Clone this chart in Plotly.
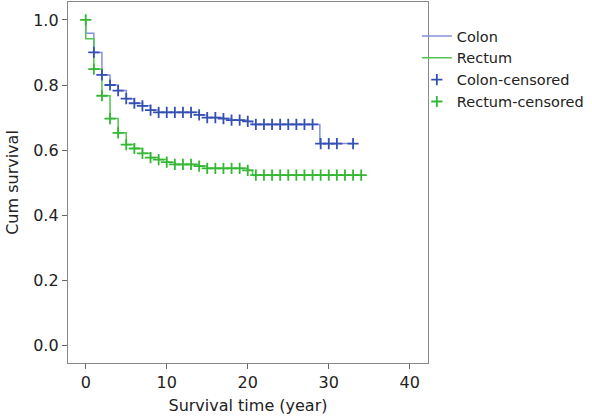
import plotly.graph_objects as go

# Step curves (Kaplan-Meier estimates)
colon_step_t = [0, 0, 1, 2, 3, 4, 5, 6, 7, 8, 9, 14, 15, 17, 18, 20, 20.6, 28.9, 33]
colon_step_s = [1.0, 0.959, 0.90, 0.831, 0.80, 0.783, 0.758, 0.744, 0.736, 0.723, 0.716,
                0.708, 0.70, 0.697, 0.692, 0.688, 0.679, 0.62, 0.62]
rectum_step_t = [0, 0, 1, 2, 3, 4, 5, 6, 7, 8, 9, 10, 11, 14, 15, 20, 20.6, 34]
rectum_step_s = [1.0, 0.942, 0.849, 0.767, 0.697, 0.653, 0.617, 0.605, 0.590, 0.577, 0.571,
                 0.563, 0.556, 0.551, 0.544, 0.538, 0.523, 0.523]

# Censored marks
colon_cens_t = list(range(1, 29)) + [29, 30, 31, 33]
colon_cens_s = [0.90, 0.831, 0.80, 0.783, 0.758, 0.744, 0.736, 0.723, 0.716, 0.716,
                0.716, 0.716, 0.716, 0.708, 0.70, 0.70, 0.697, 0.692, 0.692, 0.688,
                0.679, 0.679, 0.679, 0.679, 0.679, 0.679, 0.679, 0.679,
                0.62, 0.62, 0.62, 0.62]
rectum_cens_t = list(range(0, 35))
rectum_cens_s = [1.0, 0.849, 0.767, 0.697, 0.653, 0.617, 0.605, 0.590, 0.577, 0.571,
                 0.563, 0.556, 0.556, 0.556, 0.551, 0.544, 0.544, 0.544, 0.544, 0.544,
                 0.538] + [0.523] * 14

x_ticks = [0, 10, 20, 30, 40]
y_ticks = [0.0, 0.2, 0.4, 0.6, 0.8, 1.0]

BLUE_LINE = "#8492da"
BLUE_MARK = "#3550b5"
GREEN_LINE = "#52c452"
GREEN_MARK = "#33b833"
FONT = "DejaVu Sans"

fig = go.Figure()
fig.add_trace(go.Scatter(x=colon_step_t, y=colon_step_s, mode="lines", name="Colon",
                         line=dict(color=BLUE_LINE, width=1.5, shape="hv")))
fig.add_trace(go.Scatter(x=rectum_step_t, y=rectum_step_s, mode="lines", name="Rectum",
                         line=dict(color=GREEN_LINE, width=1.5, shape="hv")))
fig.add_trace(go.Scatter(x=colon_cens_t, y=colon_cens_s, mode="markers", name="Colon-censored",
                         marker=dict(symbol="cross-thin", size=8,
                                     line=dict(color=BLUE_MARK, width=1.8))))
fig.add_trace(go.Scatter(x=rectum_cens_t, y=rectum_cens_s, mode="markers", name="Rectum-censored",
                         marker=dict(symbol="cross-thin", size=8,
                                     line=dict(color=GREEN_MARK, width=1.8))))

axis_common = dict(showline=True, linecolor="#888888", linewidth=1.3, mirror=True,
                   ticks="outside", ticklen=5, tickcolor="#666666", tickwidth=1,
                   showgrid=False, zeroline=False,
                   tickfont=dict(family=FONT, size=16, color="#222222"))

fig.update_layout(
    width=592, height=420,
    margin=dict(l=67.5, r=164, t=2, b=57),
    paper_bgcolor="white", plot_bgcolor="white",
    font=dict(family=FONT, color="#222222"),
    showlegend=True,
    legend=dict(x=0.969, y=0.95, xanchor="left", yanchor="top",
                bgcolor="rgba(0,0,0,0)", font=dict(family=FONT, size=14.5, color="#222222"),
                itemwidth=30, tracegroupgap=0),
    xaxis=dict(range=[-2.19, 42.25], tickvals=x_ticks, ticktext=[str(v) for v in x_ticks],
               title=dict(text="Survival time (year)", font=dict(family=FONT, size=16), standoff=8),
               **axis_common),
    yaxis=dict(range=[-0.054, 1.055], tickvals=y_ticks, ticktext=[f"{v:.1f}" for v in y_ticks],
               title=dict(text="Cum survival", font=dict(family=FONT, size=16), standoff=10),
               **axis_common),
)

fig.write_html("out.html", config={"displayModeBar": False},
               post_script="document.body.style.margin='0';document.body.style.padding='0';")
